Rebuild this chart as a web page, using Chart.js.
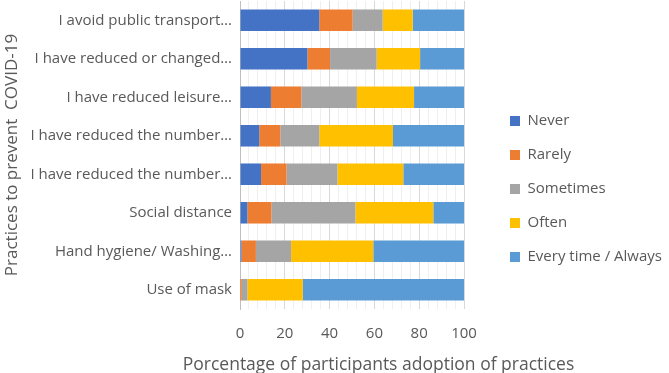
<!DOCTYPE html>
<html><head><meta charset="utf-8">
<script src="https://cdn.jsdelivr.net/npm/chart.js@4"></script>
<style>html,body{margin:0;padding:0;background:#fff;}canvas{display:block;}</style>
</head><body>
<canvas id="c" width="669" height="373"></canvas>
<script>
const categories = [
  "I avoid public transport…",
  "I have reduced or changed…",
  "I have reduced leisure…",
  "I have reduced the number…",
  "I have reduced the number…",
  "Social distance",
  "Hand hygiene/ Washing…",
  "Use of mask"
];
const never     = [35.4, 30.1, 13.8, 8.6, 9.4, 3.3, 0.7, 0.2];
const rarely    = [14.9, 10.1, 13.6, 9.4, 11.4, 10.7, 6.4, 0.6];
const sometimes = [13.4, 20.8, 24.8, 17.4, 22.7, 37.5, 15.7, 2.5];
const often     = [13.4, 19.4, 25.5, 32.9, 29.4, 34.8, 36.7, 24.7];
const always    = [22.9, 19.6, 22.3, 31.7, 27.1, 13.7, 40.5, 72.0];
const seriesNames = ["Never", "Rarely", "Sometimes", "Often", "Every time / Always"];
const xTicks = [0, 20, 40, 60, 80, 100];

const colors = ["#4472C4", "#ED7D31", "#A5A5A5", "#FFC000", "#5B9BD5"];
const values = [never, rarely, sometimes, often, always];
const FONT = "'Open Sans', 'DejaVu Sans', sans-serif";
const TXT = '#595959';

const layoutTweaks = {
  id: 'layoutTweaks',
  beforeLayout(chart) {
    const lg = chart.legend;
    if (lg && !lg._patched) {
      const orig = lg.fit.bind(lg);
      lg.fit = function () { orig(); this.width = 205; };
      lg._patched = true;
    }
  },
  afterLayout(chart) {
    const lg = chart.legend;
    if (lg) { lg.left += 27; lg.right += 27; lg.top += 2; lg.bottom += 2; }
    const tb = chart.titleBlock;
    if (tb) { tb.left += 44; tb.right += 44; tb.top += 3; tb.bottom += 3; }
  }
};

new Chart(document.getElementById('c'), {
  type: 'bar',
  data: {
    labels: categories,
    datasets: seriesNames.map((n, i) => ({
      label: n, data: values[i], backgroundColor: colors[i],
      borderWidth: 0, barPercentage: 0.56, categoryPercentage: 1
    }))
  },
  plugins: [layoutTweaks],
  options: {
    indexAxis: 'y',
    responsive: false,
    animation: false,
    devicePixelRatio: 1,
    layout: { padding: { top: 1, left: 0, right: 0, bottom: 0 } },
    plugins: {
      tooltip: { enabled: false },
      title: {
        display: true, position: 'bottom', fullSize: true,
        text: 'Porcentage of participants adoption of practices',
        color: TXT, font: { family: FONT, size: 17.5, weight: 'normal' },
        padding: { top: 0, bottom: 0 }
      },
      legend: {
        position: 'right',
        labels: {
          boxWidth: 10, boxHeight: 10, padding: 19,
          color: TXT, font: { family: FONT, size: 15 }
        }
      }
    },
    scales: {
      x: {
        stacked: true, min: 0, max: 100,
        afterFit: s => { s.height = 43; },
        ticks: {
          stepSize: 4, autoSkip: false, maxRotation: 0, padding: 16,
          color: TXT, font: { family: FONT, size: 15 },
          callback: v => xTicks.includes(v) ? String(v) : ''
        },
        grid: {
          drawTicks: false,
          color: ctx => (ctx.tick && xTicks.includes(ctx.tick.value)) ? '#d9d9d9' : '#efefef'
        },
        border: { display: false }
      },
      y: {
        stacked: true,
        afterFit: s => { s.width = 240; s.paddingTop = 0; s.paddingBottom = 0; },
        ticks: { color: TXT, font: { family: FONT, size: 15 }, padding: 8 },
        grid: { display: false, drawTicks: false },
        border: { display: true, color: '#bfbfbf' },
        title: {
          display: true, text: 'Practices to prevent  COVID-19',
          color: TXT, font: { family: FONT, size: 17 }, padding: { top: 2, bottom: 4 }
        }
      }
    }
  }
});
</script>
</body></html>
